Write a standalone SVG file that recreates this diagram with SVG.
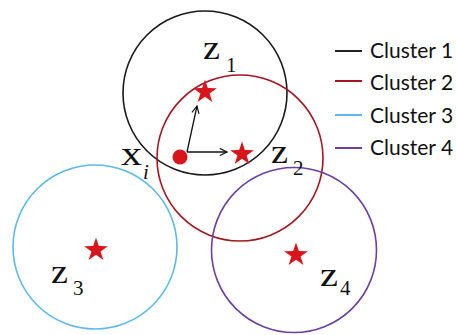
<svg xmlns="http://www.w3.org/2000/svg" width="456" height="335" viewBox="0 0 456 335">
<style>
.c{fill:none;stroke-width:1.6}
.lbl{font-family:"Liberation Serif",serif;fill:#111}
.z{font-size:34px}
.sub{font-size:21px}
.leg{font-family:Lato,"Liberation Sans",sans-serif;font-size:21px;fill:#111}
.ll{stroke-width:2}
.arr{stroke:#111;stroke-width:1.3;fill:none}
</style>
<defs>
<polygon id="star" fill="#d9141b" points="0,-12.5 2.82,-3.88 11.89,-3.86 4.57,1.48 7.35,10.11 0,4.8 -7.35,10.11 -4.57,1.48 -11.89,-3.86 -2.82,-3.88"/>
<marker id="ah" viewBox="0 0 10 10" refX="9" refY="5" markerWidth="9" markerHeight="9" markerUnits="userSpaceOnUse" orient="auto">
<path d="M1,1 L9,5 L1,9" fill="none" stroke="#111" stroke-width="1.3"/>
</marker>
</defs>
<rect width="456" height="335" fill="#fff"/>
<g id="cluster1"><circle class="c" cx="205" cy="93" r="82" stroke="#1a1a1a"/></g>
<g id="cluster2"><circle class="c" cx="240" cy="158" r="83" stroke="#a3161f"/></g>
<g id="cluster3"><circle class="c" cx="95" cy="247" r="82" stroke="#5cb9ea"/></g>
<g id="cluster4"><circle class="c" cx="294" cy="250" r="82.5" stroke="#6c3fa3"/></g>
<g id="connectors">
<line class="arr" x1="187" y1="152" x2="197" y2="106" marker-end="url(#ah)"/>
<line class="arr" x1="187" y1="152" x2="227" y2="152" marker-end="url(#ah)"/>
</g>
<g id="z1"><use href="#star" x="205" y="92"/>
<text class="lbl z" x="203" y="59" textLength="17" lengthAdjust="spacingAndGlyphs">z</text><text class="lbl sub" x="226" y="72">1</text></g>
<g id="z2"><use href="#star" x="242" y="154"/>
<text class="lbl z" x="271" y="163" textLength="17" lengthAdjust="spacingAndGlyphs">z</text><text class="lbl sub" x="293" y="175">2</text></g>
<g id="z3"><use href="#star" x="96" y="250"/>
<text class="lbl z" x="51" y="283" textLength="17" lengthAdjust="spacingAndGlyphs">z</text><text class="lbl sub" x="73" y="295">3</text></g>
<g id="z4"><use href="#star" x="296" y="255"/>
<text class="lbl z" x="320" y="286" textLength="18" lengthAdjust="spacingAndGlyphs">z</text><text class="lbl sub" x="340" y="295">4</text></g>
<g id="xi"><circle cx="180" cy="157" r="7.5" fill="#d9141b"/>
<text class="lbl z" x="121" y="165" textLength="21" lengthAdjust="spacingAndGlyphs">x</text><text class="lbl sub" x="143" y="179" font-style="italic">i</text></g>
<g id="legend">
<line class="ll" x1="335" y1="51" x2="362" y2="51" stroke="#222"/><text class="leg" x="370" y="58">Cluster 1</text>
<line class="ll" x1="335" y1="81" x2="362" y2="81" stroke="#a3161f"/><text class="leg" x="370" y="90">Cluster 2</text>
<line class="ll" x1="335" y1="115" x2="362" y2="115" stroke="#5cb9ea"/><text class="leg" x="370" y="123">Cluster 3</text>
<line class="ll" x1="335" y1="148" x2="362" y2="148" stroke="#6c3fa3"/><text class="leg" x="370" y="155">Cluster 4</text>
</g>
</svg>
